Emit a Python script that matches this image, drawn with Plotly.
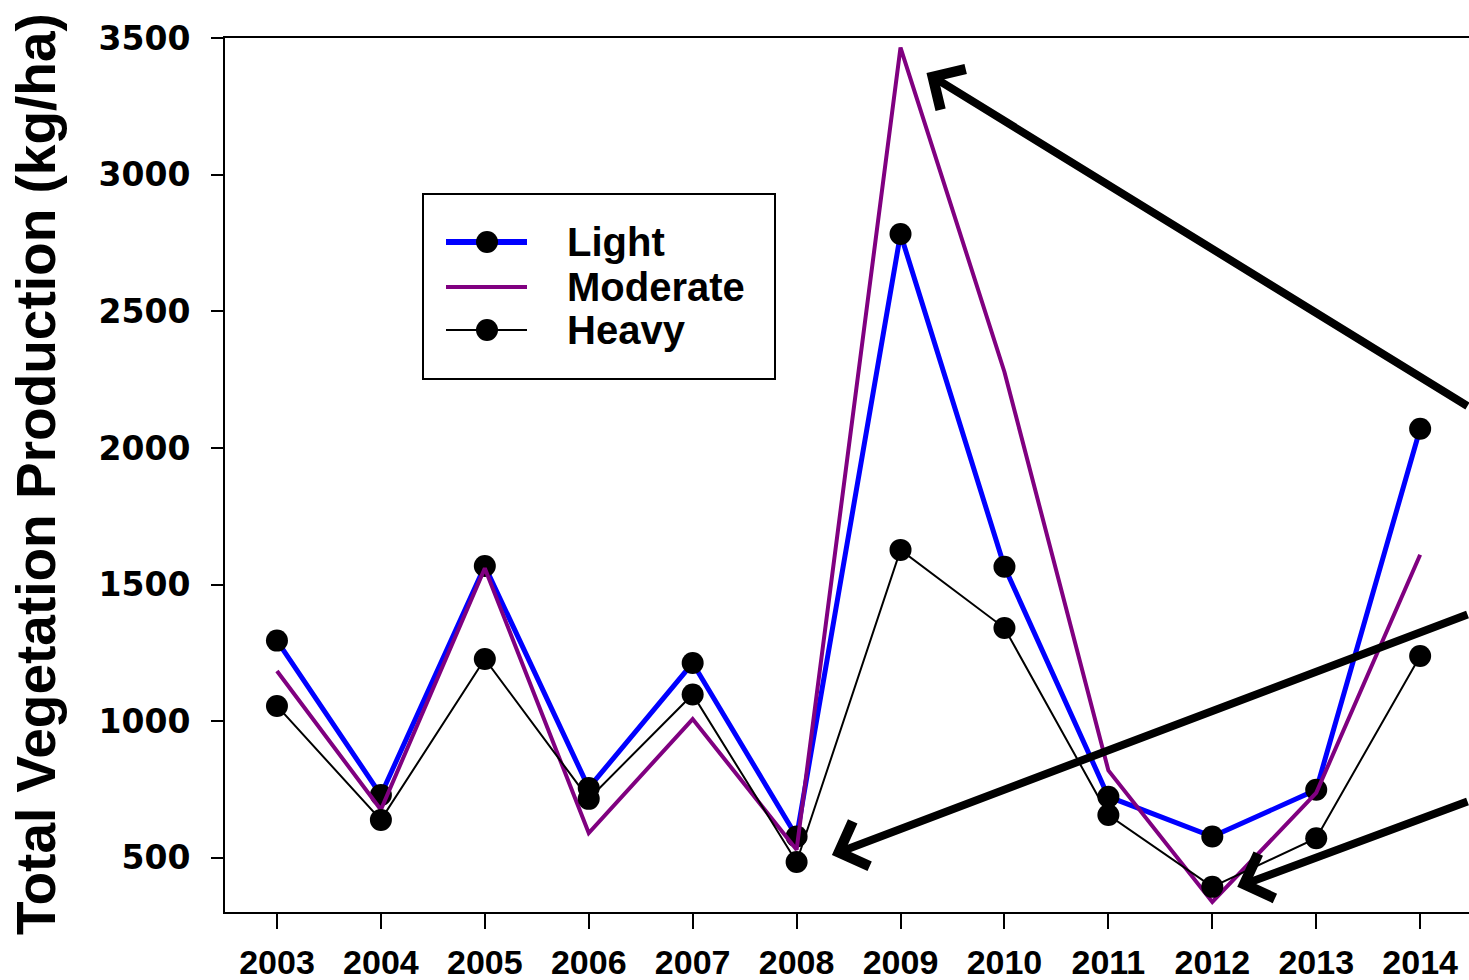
import plotly.graph_objects as go

# ---------------- data ----------------
years = [2003, 2004, 2005, 2006, 2007, 2008, 2009, 2010, 2011, 2012, 2013, 2014]
light = [1295, 730, 1568, 756, 1213, 578, 2783, 1565, 724, 578, 749, 2070]
moderate = [1184, 676, 1560, 591, 1008, 530, 3465, 2278, 820, 339, 738, 1609]
heavy = [1056, 639, 1228, 716, 1098, 485, 1627, 1341, 657, 394, 572, 1239]
y_ticks = [500, 1000, 1500, 2000, 2500, 3000, 3500]
series_names = ["Light", "Moderate", "Heavy"]

# arrow tips (data coords) and tail offsets (px)
arrow_tips = [(2009.25, 3372), (2008.34, 511), (2012.24, 394)]
arrow_tails = [(564, 334), (658, -241), (253, -86)]

W, H = 1469, 980
L, R, T, B = 225, 0, 38, 68
PW, PH = W - L - R, H - T - B


def px(x):
    return (x - L) / PW


def py(y):
    return (H - B - y) / PH


FONT = "Liberation Sans, Arial, sans-serif"

fig = go.Figure()
fig.add_trace(go.Scatter(x=years, y=light, mode="lines+markers", name=series_names[0],
                         line=dict(color="#0000ff", width=5),
                         marker=dict(color="black", size=22)))
fig.add_trace(go.Scatter(x=years, y=moderate, mode="lines", name=series_names[1],
                         line=dict(color="#800080", width=4)))
fig.add_trace(go.Scatter(x=years, y=heavy, mode="lines+markers", name=series_names[2],
                         line=dict(color="black", width=2),
                         marker=dict(color="black", size=22)))

annotations = []
for (tx, ty), (ax, ay) in zip(arrow_tips, arrow_tails):
    annotations.append(dict(x=tx, y=ty, xref="x", yref="y", text="", showarrow=True,
                            ax=ax, ay=ay, arrowhead=4, arrowsize=1.15, arrowwidth=8,
                            arrowcolor="black", standoff=0))

# y-axis title
annotations.append(dict(x=px(36), y=py(474), xref="paper", yref="paper",
                        text="Total Vegetation Production (kg/ha)", textangle=-90,
                        showarrow=False, xanchor="center", yanchor="middle",
                        font=dict(family=FONT, size=55, color="black", weight="bold")))

# manual legend
shapes = [dict(type="rect", xref="paper", yref="paper", x0=px(423), x1=px(775),
               y0=py(379), y1=py(194), line=dict(color="black", width=2),
               fillcolor="white", layer="above")]
leg_rows = [242, 287, 330]
leg_colors = ["#0000ff", "#800080", "black"]
leg_widths = [6, 4, 2]
leg_marker = [True, False, True]
for name, yy, c, w, mk in zip(series_names, leg_rows, leg_colors, leg_widths, leg_marker):
    shapes.append(dict(type="line", xref="paper", yref="paper", x0=px(446), x1=px(527),
                       y0=py(yy), y1=py(yy), line=dict(color=c, width=w), layer="above"))
    if mk:
        shapes.append(dict(type="circle", xref="paper", yref="paper",
                           x0=px(487 - 11), x1=px(487 + 11), y0=py(yy + 11), y1=py(yy - 11),
                           fillcolor="black", line=dict(color="black", width=0), layer="above"))
    annotations.append(dict(x=px(565), y=py(yy), xref="paper", yref="paper", text=name,
                            showarrow=False, xanchor="left", yanchor="middle",
                            font=dict(family=FONT, size=40, color="black", weight="bold")))

fig.update_layout(
    width=W, height=H,
    margin=dict(l=L, r=R, t=T, b=B),
    paper_bgcolor="white", plot_bgcolor="white",
    showlegend=False,
    shapes=shapes,
    annotations=annotations,
    xaxis=dict(range=[2002.5, 2014.47], tickmode="array", tickvals=years,
               ticktext=[str(y) for y in years], automargin=False,
               showgrid=False, zeroline=False, showline=True, linecolor="black",
               linewidth=2, mirror=True, ticks="outside", ticklen=15, tickwidth=2,
               tickcolor="black", ticklabelstandoff=4,
               tickfont=dict(family=FONT, size=34, color="black", weight="bold")),
    yaxis=dict(range=[302, 3500], tickmode="array", tickvals=y_ticks, automargin=False,
               showgrid=False, zeroline=False, showline=True, linecolor="black",
               linewidth=2, mirror=False, ticks="outside", ticklen=12, tickwidth=2,
               tickcolor="black", ticklabelstandoff=14,
               tickfont=dict(family="DejaVu Sans", size=33, color="black", weight="bold")),
)

fig.write_html("out.html")
